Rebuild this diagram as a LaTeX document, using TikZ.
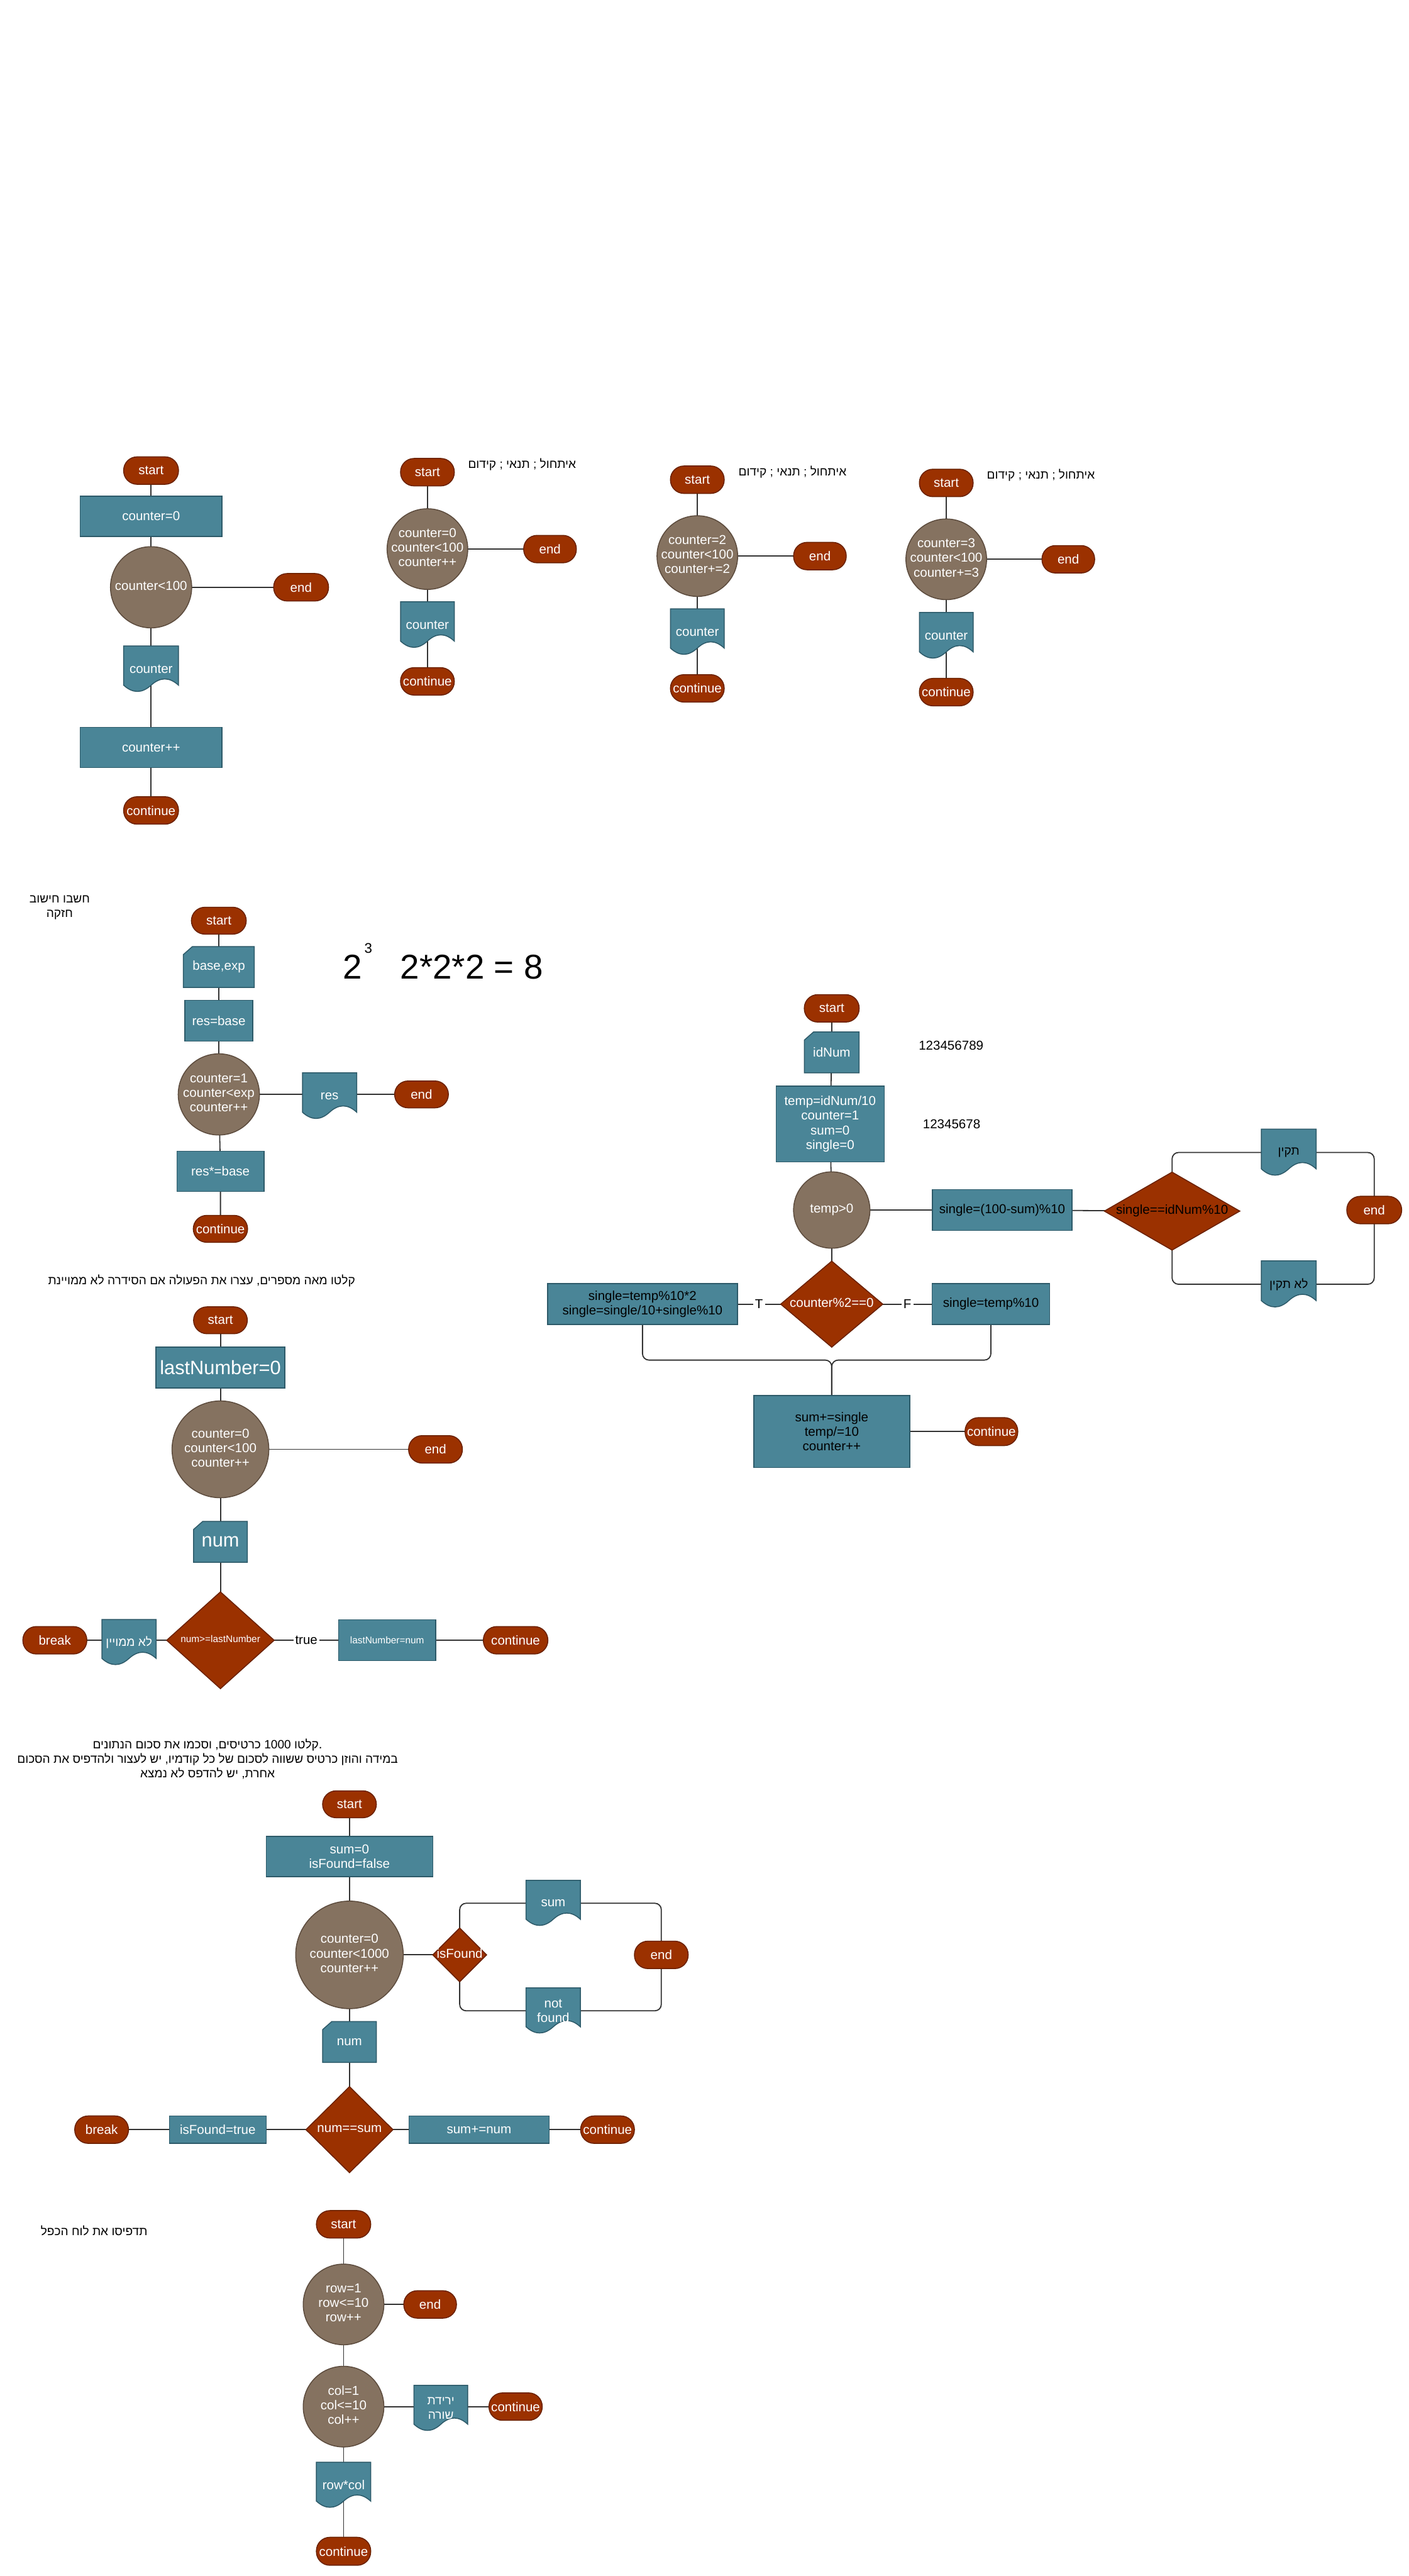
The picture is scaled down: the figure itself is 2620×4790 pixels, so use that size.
\documentclass[tikz,border=0pt]{standalone}
\usepackage{fontspec}
\setmainfont{Liberation Sans}
\newfontfamily\heb[Script=Hebrew,Scale=0.93]{Liberation Sans}
\usetikzlibrary{shapes.geometric}
\TeXXeTstate=1
\pgfdeclarelayer{bg}
\pgfsetlayers{bg,main}
\definecolor{tealf}{HTML}{4A8597}
\definecolor{teald}{HTML}{2D5A69}
\definecolor{redf}{HTML}{9B3100}
\definecolor{redd}{HTML}{6A2000}
\definecolor{brownf}{HTML}{857260}
\definecolor{brownd}{HTML}{5C4B3D}
\definecolor{linec}{HTML}{333333}
\newcommand\fsN{\fontsize{6.83pt}{7.7pt}\selectfont}
\newcommand\fsL{\fontsize{10.24pt}{11.5pt}\selectfont}
\newcommand\fsS{\fontsize{5.12pt}{5.8pt}\selectfont}
\newcommand\zbox[1]{\makebox[0pt]{\begin{tabular}{@{}c@{}}#1\end{tabular}}}
\newcommand\hebr[1]{{\heb\beginR #1\endR}}
\tikzset{
 base/.style={inner sep=0pt, outer sep=0pt, align=center, font=\fsN, text=white},
 sz/.style 2 args={minimum width=#1*0.01cm, minimum height=#2*0.01cm},
 csz/.style={minimum size=#1*0.01cm},
 term/.style={base, fill=redf, draw=redd, line width=0.5pt, rounded corners=0.25cm, minimum width=1.02cm, minimum height=0.51cm},
 proc/.style={base, fill=tealf, draw=teald, line width=0.5pt},
 loopc/.style={base, circle, fill=brownf, draw=brownd, line width=0.5pt},
 dec/.style={base, diamond, fill=redf, draw=redd, line width=0.5pt},
 docsty/.style={fill=tealf, draw=teald, line width=0.5pt},
 plain/.style={inner sep=0pt, align=center, font=\fsN, text=black},
 conn/.style={draw=linec, line width=0.6pt},
 lab/.style={plain, fill=white, inner sep=1pt},
}
% document shape: [text colour]{name}{x}{y}{w}{h}{text}
\newcommand\docnode[7][white]{%
 \pgfmathsetmacro\dXl{#3-#5/2}%
 \pgfmathsetmacro\dXr{#3+#5/2}%
 \pgfmathsetmacro\dYt{#4-#6/2}%
 \pgfmathsetmacro\dYs{#4+0.35*#6}%
 \pgfmathsetmacro\dYu{#4+0.17*#6}%
 \pgfmathsetmacro\dYd{#4+0.53*#6}%
 \pgfmathsetmacro\dXa{#3+0.3333*#5}%
 \pgfmathsetmacro\dXb{#3+0.1667*#5}%
 \pgfmathsetmacro\dXc{#3-0.1667*#5}%
 \pgfmathsetmacro\dXd{#3-0.3333*#5}%
 \filldraw[docsty] (\dXl,\dYt) -- (\dXr,\dYt) -- (\dXr,\dYs) .. controls (\dXa,\dYu) and (\dXb,\dYu) .. (#3,\dYs) .. controls (\dXc,\dYd) and (\dXd,\dYd) .. (\dXl,\dYs) -- cycle;
 \node[base, text=#1, minimum width=#5*0.01cm, minimum height=#6*0.01cm] (#2) at (#3,#4) {#7};
}
% card (manual input) shape
\newcommand\cardnode[7][white]{%
 \pgfmathsetmacro\dXl{#3-#5/2}%
 \pgfmathsetmacro\dXr{#3+#5/2}%
 \pgfmathsetmacro\dYt{#4-#6/2}%
 \pgfmathsetmacro\dYb{#4+#6/2}%
 \pgfmathsetmacro\dXa{#3-#5/2+17}%
 \pgfmathsetmacro\dYa{#4-#6/2+15}%
 \filldraw[docsty] (\dXa,\dYt) -- (\dXr,\dYt) -- (\dXr,\dYb) -- (\dXl,\dYb) -- (\dXl,\dYa) -- cycle;
 \node[base, text=#1, minimum width=#5*0.01cm, minimum height=#6*0.01cm] (#2) at (#3,#4) {#7};
}
\begin{document}
\begin{tikzpicture}[x=0.01cm,y=-0.01cm]
\useasboundingbox (0,0) rectangle (2620,4790);

% ---------- Section 1 ----------
\node[term] (s1) at (281,875) {start};
\node[proc,sz={264}{75}] (p1a) at (281,960) {counter=0};
\node[loopc,csz=151] (c1) at (281,1092) {\zbox{counter<100}};
\node[term] (e1) at (560,1092) {end};
\docnode{d1}{281}{1244}{102}{86}{counter}
\node[proc,sz={264}{75}] (p1b) at (281,1390) {counter++};
\node[term] (k1) at (281,1507) {continue};

% ---------- Section 2 ----------
\node[term,sz={100}{51}] (s2a) at (795,878) {start};
\node[plain] (h2a) at (971,864) {\hebr{איתחול ; תנאי ; קידום}};
\node[loopc,csz=150] (c2a) at (795,1021) {\zbox{counter=0\\counter<100\\counter++}};
\node[term,sz={98}{51}] (e2a) at (1023,1021) {end};
\docnode{d2a}{795}{1162}{100}{86}{counter}
\node[term,sz={100}{51}] (k2a) at (795,1267) {continue};

\node[term,sz={100}{51}] (s2b) at (1297,892) {start};
\node[plain] (h2b) at (1474,878) {\hebr{איתחול ; תנאי ; קידום}};
\node[loopc,csz=150] (c2b) at (1297,1034) {\zbox{counter=2\\counter<100\\counter+=2}};
\node[term,sz={98}{51}] (e2b) at (1525,1034) {end};
\docnode{d2b}{1297}{1175}{100}{86}{counter}
\node[term,sz={100}{51}] (k2b) at (1297,1280) {continue};

\node[term,sz={100}{51}] (s2c) at (1760,898) {start};
\node[plain] (h2c) at (1936,884) {\hebr{איתחול ; תנאי ; קידום}};
\node[loopc,csz=150] (c2c) at (1760,1040) {\zbox{counter=3\\counter<100\\counter+=3}};
\node[term,sz={98}{51}] (e2c) at (1987,1040) {end};
\docnode{d2c}{1760}{1182}{100}{86}{counter}
\node[term,sz={100}{51}] (k2c) at (1760,1287) {continue};

% ---------- Section 3 ----------
\node[plain] (h3) at (111,1688) {\hebr{חשבו חישוב}\\\hebr{חזקה}};
\node[term,sz={102}{50}] (s3) at (407,1712) {start};
\cardnode{i3}{407}{1798}{132}{76}{base,exp}
\node[proc,sz={126}{76}] (p3a) at (407,1898) {res=base};
\node[loopc,csz=151] (c3) at (407,2035) {\zbox{counter=1\\counter<exp\\counter++}};
\docnode{d3}{613}{2038}{101}{86}{res}
\node[term,sz={100}{50}] (e3) at (784,2035) {end};
\node[proc,sz={162}{75}] (p3b) at (410,2178) {res*=base};
\node[term,sz={101}{50}] (k3) at (410,2285) {continue};
\node[plain,anchor=base west,font=\fontsize{18.2pt}{20pt}\selectfont] (m3a) at (637,1820) {2};
\node[plain,anchor=base west,font=\fontsize{7.4pt}{8pt}\selectfont] (m3b) at (677,1772) {3};
\node[plain,anchor=base west,font=\fontsize{18.2pt}{20pt}\selectfont] (m3c) at (744,1820) {2*2*2 = 8};

% ---------- Section 4 ----------
\node[term] (s4) at (1547,1875) {start};
\cardnode{i4}{1547}{1957}{102}{76}{idNum}
\node[plain] (t4a) at (1769,1944) {123456789};
\node[proc,sz={201}{141}] (p4a) at (1544,2090) {temp=idNum/10\\counter=1\\sum=0\\single=0};
\node[plain] (t4b) at (1770,2090) {12345678};
\node[loopc,csz=142] (c4) at (1547,2250) {\zbox{temp>0}};
\node[proc,sz={260}{76},text=black] (p4b) at (1864,2250) {single=(100-sum)\%10};
\node[dec,sz={252}{145},text=black] (q4a) at (2180,2252) {\zbox{single==idNum\%10}};
\docnode[black]{d4a}{2397}{2143}{102}{87}{\hebr{תקין}}
\docnode[black]{d4b}{2397}{2388}{102}{87}{\hebr{לא תקין}}
\node[term] (e4) at (2556,2250) {end};
\node[dec,sz={190}{160}] (q4b) at (1547,2425) {\zbox{counter\%2==0}};
\node[proc,sz={353}{76},text=black] (p4c) at (1195,2425) {single=temp\%10*2\\single=single/10+single\%10};
\node[proc,sz={219}{76},text=black] (p4d) at (1843,2425) {single=temp\%10};
\coordinate (j4) at (1547,2529);
\node[proc,sz={290}{134},text=black] (p4e) at (1547,2662) {sum+=single\\temp/=10\\counter++};
\node[term,sz={98}{52}] (k4) at (1844,2662) {continue};

% ---------- Section 5 ----------
\node[plain] (h5) at (375,2381) {\hebr{קלטו מאה מספרים, עצרו את הפעולה אם הסידרה לא ממויינת}};
\node[term,sz={100}{50}] (s5) at (410,2455) {start};
\node[proc,sz={240}{76},font=\fsL] (p5a) at (410,2543) {lastNumber=0};
\node[loopc,csz=180] (c5) at (410,2695) {\zbox{counter=0\\counter<100\\counter++}};
\node[term,sz={100}{51}] (e5) at (810,2695) {end};
\cardnode{i5}{410}{2867}{100}{76}{\fsL num}
\node[dec,sz={200}{180},font=\fsS] (q5) at (410,3050) {\zbox{num>=lastNumber}};
\docnode{d5}{240}{3054}{101}{85}{\hebr{לא ממויין}}
\node[term,sz={119}{51}] (b5) at (102,3050) {break};
\node[proc,sz={181}{76},font=\fsS] (p5b) at (720,3050) {lastNumber=num};
\node[term,sz={120}{51}] (k5) at (959,3050) {continue};

% ---------- Section 6 ----------
\node[plain] (h6) at (386,3271) {\hebr{קלטו \beginL 1000\endL{} כרטיסים, וסכמו את סכום הנתונים}.\\\hebr{במידה והוזן כרטיס ששווה לסכום של כל קודמיו, יש לעצור ולהדפיס את הסכום}\\\hebr{אחרת, יש להדפס לא נמצא}};
\node[term,sz={100}{50}] (s6) at (650,3355) {start};
\node[proc,sz={310}{75}] (p6a) at (650,3452) {sum=0\\isFound=false};
\node[loopc,csz=200] (c6) at (650,3635) {\zbox{counter=0\\counter<1000\\counter++}};
\node[dec,sz={100}{100}] (q6a) at (855,3635) {\zbox{isFound}};
\docnode{d6a}{1029}{3539}{101}{85}{sum}
\docnode{d6b}{1029}{3739}{101}{85}{not\\found}
\node[term,sz={100}{51}] (e6) at (1230,3635) {end};
\cardnode{i6}{650}{3797}{100}{76}{num}
\node[dec,sz={162}{160}] (q6b) at (650,3960) {\zbox{num==sum}};
\node[proc,sz={180}{51}] (p6b) at (405,3960) {isFound=true};
\node[term,sz={100}{51}] (b6) at (189,3960) {break};
\node[proc,sz={261}{51}] (p6c) at (891,3960) {sum+=num};
\node[term,sz={100}{51}] (k6) at (1130,3960) {continue};

% ---------- Section 7 ----------
\node[plain] (h7) at (175,4148) {\hebr{תדפיסו את לוח הכפל}};
\node[term,sz={101}{51}] (s7) at (639,4136) {start};
\node[loopc,csz=150] (c7a) at (639,4285) {\zbox{row=1\\row<=10\\row++}};
\node[term,sz={98}{51}] (e7) at (800,4285) {end};
\node[loopc,csz=150] (c7b) at (639,4475) {\zbox{col=1\\col<=10\\col++}};
\docnode{d7a}{820}{4478}{100}{85}{\hebr{ירידת}\\\hebr{שורה}}
\node[term,sz={99}{51}] (k7a) at (959,4475) {continue};
\docnode{d7b}{639}{4621}{101}{85}{row*col}
\node[term,sz={101}{52}] (k7b) at (639,4744) {continue};

% ---------- connectors ----------
\begin{pgfonlayer}{bg}
\fill[white] (0,0) rectangle (2620,4790);
% 1
\draw[conn] (s1.center) -- (p1a.center) -- (c1.center) -- (d1.center) -- (p1b.center) -- (k1.center);
\draw[conn] (c1.center) -- (e1.center);
% 2
\draw[conn] (s2a.center) -- (c2a.center) -- (d2a.center) -- (k2a.center);
\draw[conn] (c2a.center) -- (e2a.center);
\draw[conn] (s2b.center) -- (c2b.center) -- (d2b.center) -- (k2b.center);
\draw[conn] (c2b.center) -- (e2b.center);
\draw[conn] (s2c.center) -- (c2c.center) -- (d2c.center) -- (k2c.center);
\draw[conn] (c2c.center) -- (e2c.center);
% 3
\draw[conn] (s3.center) -- (i3.center) -- (p3a.center) -- (c3.center) -- (p3b.center) -- (k3.center);
\draw[conn] (c3.center) -- (e3.center);
% 4
\draw[conn] (s4.center) -- (i4.center) -- (p4a.center) -- (c4.center) -- (q4b.center);
\draw[conn] (c4.center) -- (p4b.center) -- (q4a.center);
\draw[conn,rounded corners=0.12cm] (q4a.center) |- (d4a.center) -| (e4.center);
\draw[conn,rounded corners=0.12cm] (q4a.center) |- (d4b.center) -| (e4.center);
\draw[conn] (p4c.east) -- node[lab] (lT) {T} (q4b.west);
\draw[conn] (q4b.east) -- node[lab] (lF) {F} (p4d.west);
\draw[conn,rounded corners=0.12cm] (p4c.center) |- (j4) -- (p4e.center);
\draw[conn,rounded corners=0.12cm] (p4d.center) |- (j4) -- (p4e.center);
\draw[conn] (p4e.center) -- (k4.center);
% 5
\draw[conn] (s5.center) -- (p5a.center) -- (c5.center) -- (i5.center) -- (q5.center);
\draw[conn] (c5.center) -- (e5.center);
\draw[conn] (q5.center) -- (b5.center);
\draw[conn] (q5.east) -- node[lab] (ltrue) {true} (p5b.west);
\draw[conn] (p5b.center) -- (k5.center);
% 6
\draw[conn] (s6.center) -- (p6a.center) -- (c6.center) -- (i6.center) -- (q6b.center);
\draw[conn] (c6.center) -- (q6a.center);
\draw[conn,rounded corners=0.12cm] (q6a.center) |- (d6a.center) -| (e6.center);
\draw[conn,rounded corners=0.12cm] (q6a.center) |- (d6b.center) -| (e6.center);
\draw[conn] (b6.center) -- (p6b.center) -- (q6b.center) -- (p6c.center) -- (k6.center);
% 7
\draw[conn] (s7.center) -- (c7a.center) -- (c7b.center) -- (d7b.center) -- (k7b.center);
\draw[conn] (c7a.center) -- (e7.center);
\draw[conn] (c7b.center) -- (k7a.center);
\end{pgfonlayer}
\end{tikzpicture}
\end{document}
